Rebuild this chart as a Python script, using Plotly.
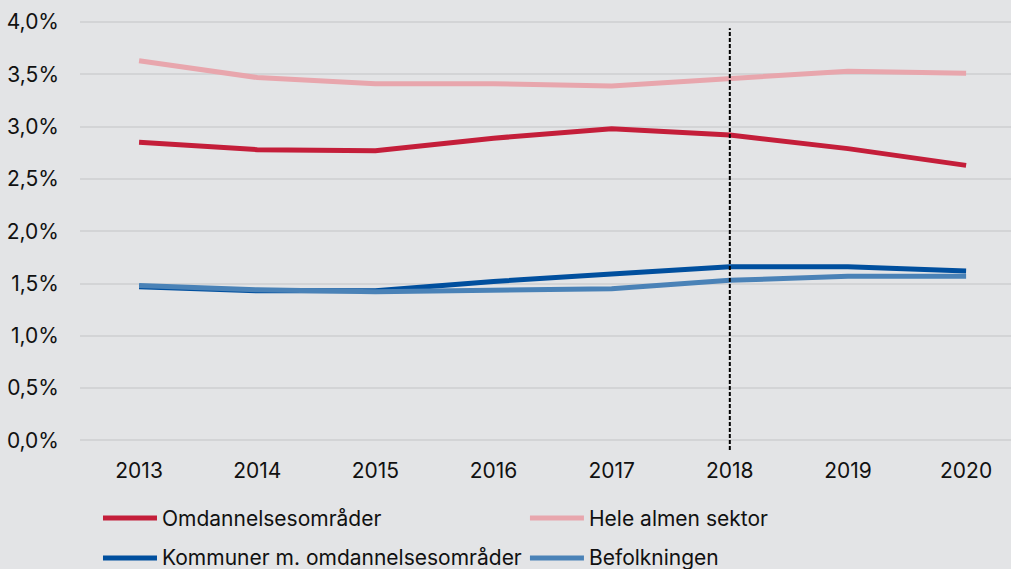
import plotly.graph_objects as go

# Andel (%) per år
years = [2013, 2014, 2015, 2016, 2017, 2018, 2019, 2020]
omdannelsesomraader = [2.85, 2.78, 2.77, 2.89, 2.98, 2.92, 2.79, 2.63]
hele_almen_sektor = [3.63, 3.47, 3.41, 3.41, 3.39, 3.46, 3.53, 3.51]
kommuner_m_omdannelse = [1.47, 1.43, 1.43, 1.52, 1.59, 1.66, 1.66, 1.62]
befolkningen = [1.48, 1.44, 1.42, 1.44, 1.45, 1.53, 1.57, 1.57]

y_ticks = [0, 0.5, 1.0, 1.5, 2.0, 2.5, 3.0, 3.5, 4.0]
y_tick_labels = [f"{v:.1f}%".replace(".", ",") for v in y_ticks]
marker_year = 2018

series = [
    ("Omdannelsesområder", omdannelsesomraader, "#c41e3a"),
    ("Hele almen sektor", hele_almen_sektor, "#e8a6ad"),
    ("Kommuner m. omdannelsesområder", kommuner_m_omdannelse, "#004f9e"),
    ("Befolkningen", befolkningen, "#4a82b7"),
]

FONT = "Inter, Roboto, sans-serif"
FONT_SIZE = 21
BG = "#e3e4e6"

fig = go.Figure()
for name, vals, color in series:
    fig.add_trace(go.Scatter(
        x=years, y=vals, name=name, mode="lines",
        line=dict(color=color, width=5),
        showlegend=False,
    ))

# Vertical dashed marker
fig.add_shape(type="line", xref="x", yref="paper",
              x0=marker_year, x1=marker_year, y0=0.014, y1=0.979,
              line=dict(color="black", width=2, dash="4px,2px"))

# Legend drawn below the plot in two columns
legend_pos = [(0.0247, -0.142), (0.4833, -0.142), (0.0247, -0.2334), (0.4833, -0.2334)]
for (name, vals, color), (lx, ly) in zip(series, legend_pos):
    fig.add_shape(type="line", xref="paper", yref="paper",
                  x0=lx, x1=lx + 0.058, y0=ly, y1=ly,
                  line=dict(color=color, width=5))
    fig.add_annotation(xref="paper", yref="paper", x=lx + 0.0612, y=ly,
                       text=name, showarrow=False, xanchor="left", yanchor="middle",
                       font=dict(family=FONT, size=FONT_SIZE, color="#111111"))

fig.update_layout(
    width=1011, height=569,
    margin=dict(l=80, r=0, t=19, b=113),
    paper_bgcolor=BG, plot_bgcolor=BG,
    font=dict(family=FONT, size=FONT_SIZE, color="#111111"),
    showlegend=False,
)
fig.update_xaxes(
    range=[2012.5, 2020.38], tickvals=years, ticktext=[str(y) for y in years],
    showgrid=False, zeroline=False, showline=False, ticks="",
    ticklabelstandoff=0,
)
fig.update_yaxes(
    range=[-0.15, 4.03], tickvals=y_ticks, ticktext=y_tick_labels,
    showgrid=True, gridcolor="#d3d4d6", gridwidth=1.5,
    zeroline=False, showline=False, ticks="",
    ticklabelstandoff=20,
)

fig.write_html("out.html")
